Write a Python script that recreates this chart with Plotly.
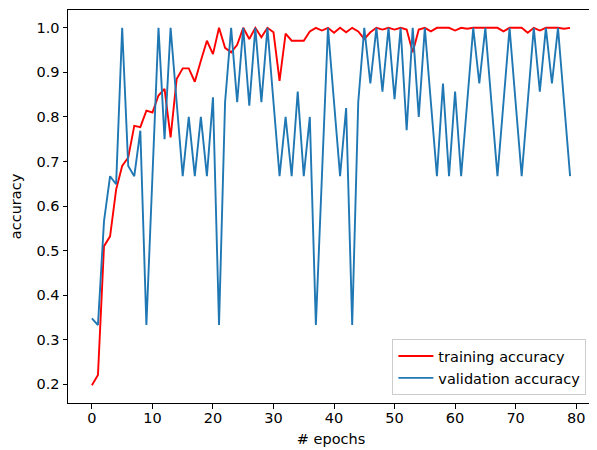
import plotly.graph_objects as go

epochs = list(range(80))

train_acc = [0.198, 0.221, 0.51, 0.532, 0.637, 0.69, 0.709, 0.78, 0.777, 0.814,
             0.81, 0.848, 0.863, 0.754, 0.885, 0.909, 0.909, 0.879, 0.926, 0.971,
             0.941, 1.0, 0.955, 0.945, 0.962, 1.0, 0.975, 1.0, 0.979, 1.0,
             0.99, 0.881, 0.987, 0.971, 0.971, 0.971, 0.992, 1.0, 0.994, 1.0,
             0.989, 1.0, 0.99, 1.0, 0.992, 0.975, 0.99, 1.0, 0.996, 1.0,
             0.996, 1.0, 0.996, 0.945, 0.996, 1.0, 0.992, 1.0, 1.0, 1.0,
             0.994, 1.0, 0.998, 1.0, 1.0, 1.0, 1.0, 1.0, 0.992, 1.0,
             1.0, 1.0, 0.989, 1.0, 0.994, 1.0, 1.0, 1.0, 0.998, 1.0]

val_acc = [0.348, 0.333, 0.566, 0.667, 0.649, 1.0, 0.69, 0.667, 0.769, 0.333,
           0.667, 1.0, 0.75, 1.0, 0.833, 0.667, 0.8, 0.667, 0.8, 0.667,
           0.844, 0.333, 0.833, 1.0, 0.833, 1.0, 0.825, 1.0, 0.833, 1.0,
           0.833, 0.667, 0.8, 0.667, 0.857, 0.667, 0.8, 0.333, 0.667, 1.0,
           0.833, 0.667, 0.82, 0.333, 0.833, 1.0, 0.875, 1.0, 0.857, 1.0,
           0.84, 1.0, 0.77, 1.0, 0.8, 1.0, 0.833, 0.667, 0.875, 0.667,
           0.857, 0.667, 0.833, 1.0, 0.875, 1.0, 0.833, 0.667, 0.833, 1.0,
           0.833, 0.667, 0.833, 1.0, 0.857, 1.0, 0.875, 1.0, 0.833, 0.667]

x_ticks = [0, 10, 20, 30, 40, 50, 60, 70, 80]
y_ticks = [0.2, 0.3, 0.4, 0.5, 0.6, 0.7, 0.8, 0.9, 1.0]
y_tick_labels = ["0.2", "0.3", "0.4", "0.5", "0.6", "0.7", "0.8", "0.9", "1.0"]

font = dict(family="DejaVu Sans", size=14.5, color="black")

fig = go.Figure()
fig.add_trace(go.Scatter(x=epochs, y=train_acc, mode="lines", name="training accuracy",
                         line=dict(color="#ff0000", width=1.9)))
fig.add_trace(go.Scatter(x=epochs, y=val_acc, mode="lines", name="validation accuracy",
                         line=dict(color="#1f77b4", width=1.9)))

axis_common = dict(showgrid=False, zeroline=False, showline=True, mirror=True,
                   linecolor="black", linewidth=1, ticks="outside", ticklen=4.5,
                   tickwidth=1, tickcolor="black", tickfont=font)

# the page body adds an 8px offset, so the figure is 8px smaller and shifted
fig.update_layout(
    width=589, height=442,
    margin=dict(l=60, r=3, t=2, b=47),
    paper_bgcolor="white", plot_bgcolor="white",
    font=font,
    xaxis=dict(range=[-3.95, 82.95], tickvals=x_ticks, ticklabelstandoff=-3,
               title=dict(text="# epochs", font=font, standoff=8), **axis_common),
    yaxis=dict(range=[0.158, 1.04], tickvals=y_ticks, ticktext=y_tick_labels,
               title=dict(text="accuracy", font=font, standoff=16), **axis_common),
    legend=dict(x=0.9855, y=0.02, xanchor="right", yanchor="bottom",
                bgcolor="rgba(255,255,255,0.8)", bordercolor="#cccccc", borderwidth=1,
                font=font, itemwidth=35, tracegroupgap=0),
    showlegend=True,
)

fig.write_html("out.html")
